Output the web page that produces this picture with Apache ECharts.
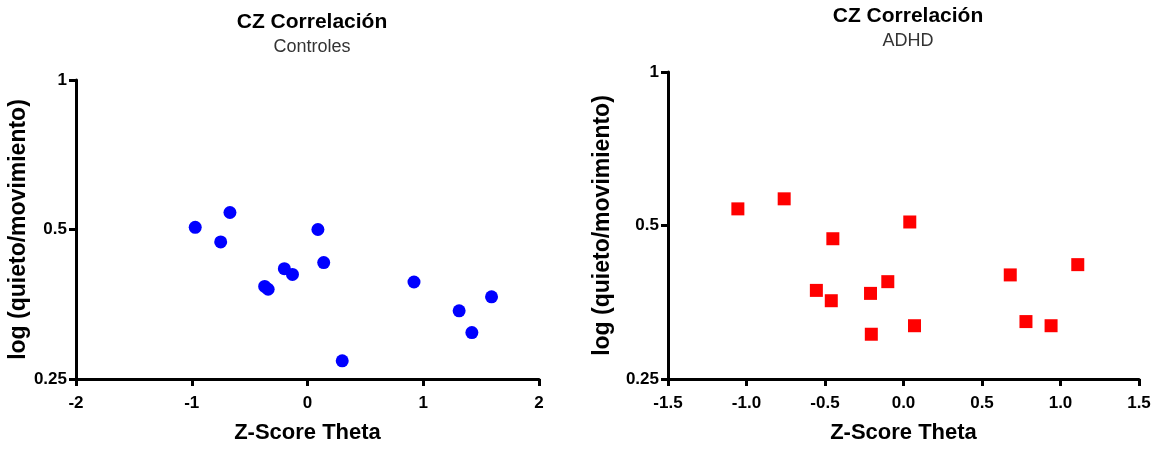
<!DOCTYPE html>
<html>
<head>
<meta charset="utf-8">
<script src="https://cdn.jsdelivr.net/npm/echarts@6/dist/echarts.min.js"></script>
<style>
html,body{margin:0;padding:0;background:#fff;}
#chart{width:1158px;height:449px;}
</style>
</head>
<body>
<div id="chart"></div>
<script>
// Data
const titleText = "CZ Correlación";
const subtitles = ["Controles", "ADHD"];
const xName = "Z-Score Theta";
const yName = "log (quieto/movimiento)";

const ctrlX = [-0.97, -0.67, -0.75, -0.20, -0.13, -0.37, -0.34, 0.09, 0.14, 0.30, 0.92, 1.31, 1.42, 1.59];
const ctrlY = [0.505, 0.541, 0.472, 0.417, 0.406, 0.384, 0.379, 0.500, 0.429, 0.272, 0.392, 0.343, 0.310, 0.366];

const adhdX = [-1.055, -0.76, -0.45, 0.04, -0.555, -0.46, -0.21, -0.10, -0.205, 0.07, 0.68, 1.11, 0.78, 0.94];
const adhdY = [0.539, 0.564, 0.471, 0.508, 0.373, 0.356, 0.368, 0.388, 0.306, 0.318, 0.400, 0.419, 0.324, 0.318];

const yTicks = [0.25, 0.5, 1];

const FONT = "Liberation Sans, Arial, sans-serif";

function pairs(xs, ys){ return xs.map((x,i)=>[x, ys[i]]); }

const axisLine = {show:true, onZero:false, lineStyle:{color:'#000', width:3}};
const axisTick = {show:true, inside:false, length:7, lineStyle:{color:'#000', width:3}};

function xAxis(idx, min, max, interval, dec){
  return {
    type:'value', gridIndex:idx, min:min, max:max, interval:interval,
    name:xName, nameLocation:'middle', nameGap:43,
    nameTextStyle:{fontFamily:FONT, fontWeight:'bold', fontSize:22, color:'#000'},
    axisLine:axisLine, axisTick:axisTick, splitLine:{show:false},
    axisLabel:{fontFamily:FONT, fontWeight:'bold', fontSize:17, color:'#000', margin:16,
      formatter:v=>dec? Number(v).toFixed(dec) : String(Math.round(v))}
  };
}
function yAxis(idx, gap){
  return {
    type:'log', logBase:2, gridIndex:idx, min:yTicks[0], max:yTicks[yTicks.length-1],
    name:yName, nameLocation:'middle', nameGap:gap, nameRotate:90,
    nameTextStyle:{fontFamily:FONT, fontWeight:'bold', fontSize:23, color:'#000'},
    axisLine:axisLine, axisTick:axisTick, splitLine:{show:false}, minorTick:{show:false},
    axisLabel:{fontFamily:FONT, fontWeight:'bold', fontSize:17, color:'#000', margin:9,
      formatter:v=>String(Number(v.toFixed(2)))}
  };
}

const chart = echarts.init(document.getElementById('chart'), null, {renderer:'canvas'});
chart.setOption({
  animation:false,
  backgroundColor:'#fff',
  title:[
    {text:titleText, subtext:subtitles[0], left:307, top:7, textAlign:'center', itemGap:5,
     textStyle:{fontFamily:FONT, fontWeight:'bold', fontSize:21, color:'#000'},
     subtextStyle:{fontFamily:FONT, fontSize:18, color:'#333'}},
    {text:titleText, subtext:subtitles[1], left:903, top:1, textAlign:'center', itemGap:5,
     textStyle:{fontFamily:FONT, fontWeight:'bold', fontSize:21, color:'#000'},
     subtextStyle:{fontFamily:FONT, fontSize:18, color:'#333'}}
  ],
  grid:[
    {left:76, top:80, width:463, height:306},
    {left:668, top:72, width:471, height:314}
  ],
  xAxis:[ xAxis(0,-2,2,1,0), xAxis(1,-1.5,1.5,0.5,1) ],
  yAxis:[ yAxis(0,39), yAxis(1,54) ],
  series:[
    {type:'scatter', xAxisIndex:0, yAxisIndex:0, symbol:'circle', symbolSize:13,
     itemStyle:{color:'#0000ff', opacity:1}, data:pairs(ctrlX, ctrlY)},
    {type:'scatter', xAxisIndex:1, yAxisIndex:1, symbol:'rect', symbolSize:13,
     itemStyle:{color:'#ff0000', opacity:1}, data:pairs(adhdX, adhdY)}
  ]
});
</script>
</body>
</html>
